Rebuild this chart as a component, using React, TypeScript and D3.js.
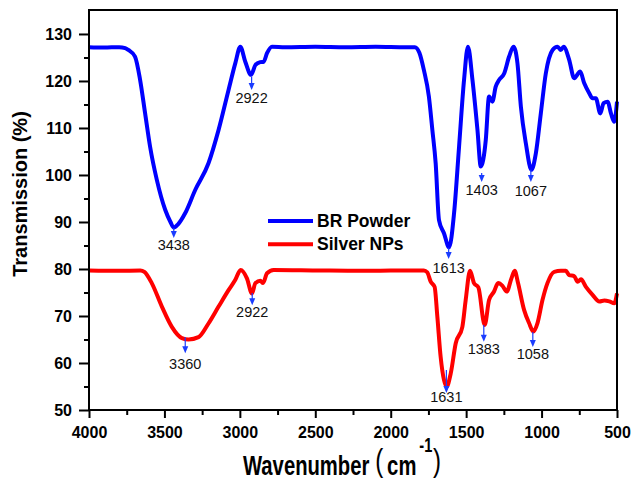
import React, { useEffect, useRef } from "react";
import * as d3 from "d3";

// BR Powder spectrum (wavenumber cm-1, transmission %)
const brWave = [4000, 3900, 3800, 3760, 3739, 3695, 3661, 3628, 3595, 3550, 3495, 3460, 3438, 3410, 3362, 3296, 3208, 3141, 3075, 3030, 2997, 2964, 2926, 2897, 2865, 2842, 2820, 2787, 2700, 2500, 2300, 2100, 1900, 1840, 1810, 1780, 1747, 1724, 1702, 1680, 1647, 1613, 1580, 1547, 1514, 1488, 1458, 1425, 1403, 1370, 1348, 1326, 1304, 1282, 1248, 1215, 1186, 1160, 1137, 1104, 1067, 1038, 1005, 972, 927, 894, 872, 854, 817, 784, 744, 717, 684, 662, 640, 611, 589, 562, 540, 518, 500];
const brTrans = [127.2, 127.1, 127.2, 127.0, 126.6, 125.2, 120.2, 113.1, 106.0, 98.9, 92.6, 90.0, 88.8, 89.5, 91.9, 96.8, 102.5, 109.6, 118.1, 123.8, 127.3, 124.1, 121.3, 123.4, 124.0, 124.1, 125.9, 127.3, 127.2, 127.3, 127.2, 127.3, 127.2, 127.2, 126.0, 122.3, 116.7, 109.6, 102.5, 90.4, 87.6, 84.6, 91.9, 106.0, 120.2, 127.3, 120.2, 109.6, 101.8, 107.4, 116.7, 115.6, 118.8, 120.2, 121.6, 125.2, 127.3, 123.8, 114.5, 106.7, 101.1, 104.6, 113.1, 121.6, 126.6, 127.3, 126.6, 127.3, 124.5, 120.6, 122.0, 119.5, 117.4, 116.3, 116.3, 113.1, 115.3, 115.6, 113.1, 111.3, 115.6];

// Silver NPs spectrum
const agWave = [4000, 3800, 3660, 3633, 3584, 3517, 3451, 3384, 3340, 3274, 3208, 3141, 3075, 3030, 2995, 2953, 2920, 2897, 2864, 2846, 2820, 2776, 2500, 2200, 2000, 1780, 1758, 1735, 1709, 1691, 1669, 1647, 1629, 1602, 1569, 1525, 1503, 1474, 1448, 1419, 1377, 1348, 1315, 1288, 1259, 1231, 1200, 1178, 1156, 1116, 1083, 1054, 1027, 994, 961, 916, 872, 839, 817, 784, 761, 739, 706, 662, 617, 584, 551, 518, 500];
const agTrans = [79.7, 79.6, 79.7, 79.4, 77.0, 72.0, 67.7, 65.3, 65.0, 65.5, 68.4, 72.0, 75.5, 77.7, 79.8, 78.0, 74.8, 77.0, 77.5, 77.0, 79.1, 79.8, 79.7, 79.6, 79.7, 79.7, 79.3, 77.3, 76.2, 69.9, 61.3, 56.4, 55.0, 57.8, 64.2, 67.7, 73.4, 79.6, 77.0, 76.1, 68.1, 73.4, 75.2, 77.0, 76.4, 75.2, 78.0, 79.6, 77.0, 71.3, 68.5, 66.7, 68.5, 73.4, 77.0, 79.4, 79.6, 79.6, 78.7, 78.5, 77.3, 77.8, 76.2, 74.5, 73.1, 73.3, 73.1, 72.7, 74.8];

// peak annotations: label, position, arrow top / bottom and label centre (in %)
const peakLabels = ["3438", "2922", "1613", "1403", "1067", "3360", "2922", "1631", "1383", "1058"];
const peakWave = [3438, 2922, 1616, 1397, 1071, 3362, 2918, 1631, 1383, 1058];
const arrowTop = [88.7, 120.9, 84.5, 100.4, 101.1, 65.5, 74.9, 58.5, 68.1, 66.6];
const arrowEnd = [86.6, 118.1, 82.1, 98.5, 98.5, 62.1, 72.3, 53.6, 64.5, 63.4];
const labelAt = [85.1, 116.4, 80.2, 96.8, 96.6, 59.8, 70.9, 52.8, 63.0, 61.9];

const xTicks = [4000, 3500, 3000, 2500, 2000, 1500, 1000, 500];
const xMinor = [3750, 3250, 2750, 2250, 1750, 1250, 750];
const yTicks = [50, 60, 70, 80, 90, 100, 110, 120, 130];
const yMinor = [55, 65, 75, 85, 95, 105, 115, 125];

const seriesNames = ["BR Powder", "Silver NPs"];
const seriesColors = ["#0000ff", "#ff0000"];

const W = 633;
const H = 481;
const FONT = "'Liberation Sans', Arial, sans-serif";

const App = () => {
  const ref = useRef<SVGSVGElement>(null);

  useEffect(() => {
    const svg = d3.select(ref.current);
    svg.selectAll("*").remove();

    const left = 89, right = 617, top = 10, bottom = 410;
    const x = d3.scaleLinear().domain([4000, 500]).range([left, right]);
    const y = d3.scaleLinear().domain([50, 135.1]).range([bottom, top]);

    // axes
    const styleAxis = (g) => {
      g.select(".domain").remove();
      g.selectAll("line").attr("stroke", "#000").attr("stroke-width", 2);
      g.selectAll("text")
        .attr("fill", "#000")
        .style("font-family", FONT)
        .style("font-weight", "bold")
        .style("font-size", "16px");
    };

    svg.append("g").attr("transform", `translate(0,${bottom})`)
      .call(d3.axisBottom(x).tickValues(xTicks).tickSize(8).tickPadding(8.5).tickFormat(d3.format("d")))
      .call(styleAxis);
    svg.append("g").attr("transform", `translate(0,${bottom})`)
      .call(d3.axisBottom(x).tickValues(xMinor).tickSize(5).tickFormat(() => ""))
      .call(styleAxis);
    svg.append("g").attr("transform", `translate(${left},0)`)
      .call(d3.axisLeft(y).tickValues(yTicks).tickSize(10).tickPadding(7))
      .call(styleAxis);
    svg.append("g").attr("transform", `translate(${left},0)`)
      .call(d3.axisLeft(y).tickValues(yMinor).tickSize(5).tickFormat(() => ""))
      .call(styleAxis);

    // spectra
    const line = d3.line().curve(d3.curveMonotoneX);
    const series = [
      d3.zip(brWave, brTrans),
      d3.zip(agWave, agTrans),
    ];
    series.forEach((pts, i) => {
      svg.append("path")
        .attr("d", line(pts.map(([w, t]) => [x(w), y(t)])))
        .attr("fill", "none")
        .attr("stroke", seriesColors[i])
        .attr("stroke-width", 4)
        .attr("stroke-linejoin", "round");
    });

    // frame
    svg.append("rect")
      .attr("x", left).attr("y", top)
      .attr("width", right - left).attr("height", bottom - top)
      .attr("fill", "none").attr("stroke", "#000").attr("stroke-width", 2);

    // peak arrows
    const arrowColor = "#1a3cff";
    peakLabels.forEach((lab, i) => {
      const px = x(peakWave[i]);
      const y0 = y(arrowTop[i]);
      const y1 = y(arrowEnd[i]);
      svg.append("line")
        .attr("x1", px).attr("x2", px).attr("y1", y0).attr("y2", y1 - 4)
        .attr("stroke", arrowColor).attr("stroke-width", 1.2);
      svg.append("path")
        .attr("d", `M${px - 3},${y1 - 7}L${px + 3},${y1 - 7}L${px},${y1}Z`)
        .attr("fill", arrowColor);
      svg.append("text")
        .attr("x", px).attr("y", y(labelAt[i]))
        .attr("dy", "0.35em")
        .attr("text-anchor", "middle")
        .style("font-family", FONT)
        .style("font-size", "14.5px")
        .attr("fill", "#111")
        .text(lab);
    });

    // legend
    seriesNames.forEach((name, i) => {
      const ly = 221 + i * 23.3;
      svg.append("line")
        .attr("x1", 268).attr("x2", 313).attr("y1", ly).attr("y2", ly)
        .attr("stroke", seriesColors[i]).attr("stroke-width", 4);
      svg.append("text")
        .attr("x", 317).attr("y", ly + 6)
        .style("font-family", FONT)
        .style("font-weight", "bold")
        .style("font-size", "17.5px")
        .attr("fill", "#000")
        .text(name);
    });

    // y title
    svg.append("text")
      .attr("transform", `translate(27,${(top + bottom) / 2 - 16}) rotate(-90)`)
      .attr("text-anchor", "middle")
      .style("font-family", FONT)
      .style("font-weight", "bold")
      .style("font-size", "20px")
      .attr("fill", "#000")
      .text("Transmission (%)");

    // x title, squeezed horizontally like the original
    const xt = svg.append("text")
      .attr("transform", "translate(243,475) scale(0.75,1)")
      .style("font-family", FONT)
      .attr("fill", "#000");
    xt.append("tspan")
      .style("font-weight", "bold").style("font-size", "27px")
      .text("Wavenumber");
    xt.append("tspan")
      .attr("dx", 8).attr("dy", -4)
      .style("font-size", "32px")
      .text("(");
    xt.append("tspan")
      .attr("dx", 5).attr("dy", 4)
      .style("font-weight", "bold").style("font-size", "27px")
      .text("cm");
    xt.append("tspan")
      .attr("dx", 4).attr("dy", -23)
      .style("font-weight", "bold").style("font-size", "19.5px")
      .text("-1");
    xt.append("tspan")
      .attr("dx", 1).attr("dy", 19)
      .style("font-size", "32px")
      .text(")");
  }, []);

  return (
    <svg
      ref={ref}
      width={W}
      height={H}
      style={{ position: "absolute", left: 0, top: 0, background: "#fff" }}
    />
  );
};

export default App;
